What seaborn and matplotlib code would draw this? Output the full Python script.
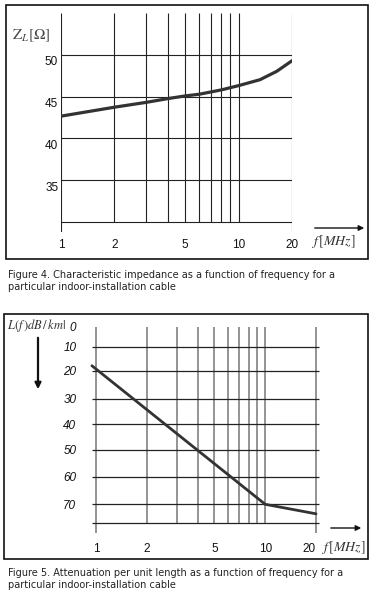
import numpy as np
import matplotlib
matplotlib.use("Agg")
import matplotlib.pyplot as plt
import matplotlib.patches as patches
import matplotlib.transforms as mtransforms
import seaborn as sns
import pandas as pd

# Figura 4: impedancia caracteristica
imp_freq = [1, 2, 3, 4, 5, 6, 8, 10, 13.2, 16.4, 20]
imp_z = [42.66, 43.73, 44.3, 44.76, 45.08, 45.28, 45.8, 46.31, 47.02, 48.02, 49.29]
imp_grid_f = [1, 2, 3, 4, 5, 6, 7, 8, 9, 10, 20]
imp_xticks = [1, 2, 5, 10, 20]
imp_yticks = [35, 40, 45, 50]
imp_hlines = [30, 35, 40, 45, 50]

# Figura 5: atenuacion por unidad de longitud
att_freq = [0.943, 10, 20]
att_db = [17.8, 70, 73.1]
att_grid_f = [1, 2, 3, 4, 5, 6, 7, 8, 9, 10, 20]
att_xticks = [1, 2, 5, 10, 20]
att_yticks = [0, 10, 20, 30, 40, 50, 60, 70]
att_hlines = [10, 20, 30, 40, 50, 60, 70, 76]
# la escala dB del original no es uniforme (separacion medida de la rejilla)
att_scale_vals = [0, 10, 20, 30, 40, 50, 60, 70, 76, 80]
att_scale_pos = [0, 20.3, 44.3, 72, 97.6, 123.3, 150, 177.6, 196, 206.3]

caption4 = ["Figure 4. Characteristic impedance as a function of frequency for a",
            "particular indoor-installation cable"]
caption5 = ["Figure 5. Attenuation per unit length as a function of frequency for a",
            "particular indoor-installation cable"]

sns.set_theme(style="white")
plt.rcParams['font.family'] = ['Liberation Sans', 'DejaVu Sans']
plt.rcParams['mathtext.fontset'] = 'stix'

W, H = 380, 593
fig = plt.figure(figsize=(W / 100, H / 100), dpi=100)
fig.patch.set_facecolor('white')


def fx(px):
    return px / W


def fy(py):
    return 1 - py / H


def frame(x0, y0, x1, y1):
    fig.patches.append(patches.Rectangle((fx(x0), fy(y1)), fx(x1) - fx(x0), fy(y0) - fy(y1),
                                         transform=fig.transFigure, fill=False,
                                         edgecolor='#111111', linewidth=1.2))


# ---------------- Figura 4 ----------------
ax1 = fig.add_axes([fx(61), fy(232), fx(292) - fx(61), fy(13) - fy(232)])
df1 = pd.DataFrame({'f': imp_freq, 'z': imp_z})
ax1.set_xscale('log')
ax1.set_xlim(1, 20)
ax1.set_ylim(28.8, 55)
for f in imp_grid_f:
    y_end = 28.8 if f in (1, 20) else 30
    ax1.vlines(f, y_end, 55, color='#222222', linewidth=0.8)
ax1.hlines(imp_hlines, 1, 20, color='#222222', linewidth=0.8)
sns.lineplot(data=df1, x='f', y='z', ax=ax1, color='#333333', linewidth=2.3)
ax1.set_xticks(imp_xticks)
ax1.set_xticklabels([str(t) for t in imp_xticks])
ax1.xaxis.set_minor_locator(matplotlib.ticker.NullLocator())
ax1.set_yticks(imp_yticks)
ax1.set_yticklabels([str(t) for t in imp_yticks])
ax1.tick_params(axis='both', length=0, labelsize=8.5, colors='#111111')
ax1.tick_params(axis='x', pad=5)
ax1.tick_params(axis='y', pad=2)
off = mtransforms.ScaledTranslation(0, -6 / 100, fig.dpi_scale_trans)
for lab in ax1.get_yticklabels():
    lab.set_transform(lab.get_transform() + off)
ax1.set_xlabel('')
ax1.set_ylabel('')
for s in ax1.spines.values():
    s.set_visible(False)
ax1.patch.set_alpha(0)

fig.text(fx(31), fy(36), r'$\mathrm{Z}_{L}[\Omega]$', fontsize=11, color='#444444',
         ha='center', va='center')
fig.text(fx(356), fy(241), r'$f\,[MHz]$', fontsize=10, color='#333333',
         ha='right', va='center')
fig.add_artist(patches.FancyArrowPatch((fx(312), fy(228)), (fx(367), fy(228)),
                                       transform=fig.transFigure, arrowstyle='-|>',
                                       mutation_scale=8, color='#111111', linewidth=1))
frame(6, 5, 368, 259)
for i, line in enumerate(caption4):
    fig.text(fx(8), fy(275 + 12 * i), line, fontsize=7, color='#222222',
             family=['DejaVu Sans'], ha='left', va='center')

# ---------------- Figura 5 ----------------
ax2 = fig.add_axes([fx(86), fy(533), fx(321) - fx(86), fy(326.7) - fy(533)])
df2 = pd.DataFrame({'f': att_freq, 'db': att_db})


def fwd(v):
    return np.interp(v, att_scale_vals, att_scale_pos)


def inv(p):
    return np.interp(p, att_scale_pos, att_scale_vals)


ax2.set_xscale('log')
ax2.set_yscale('function', functions=(fwd, inv))
ax2.set_xlim(0.87, 21.4)
ax2.set_ylim(80, 0)
for f in att_grid_f:
    y_end = 80 if f in (1, 20) else 76
    ax2.vlines(f, 0, y_end, color='#777777', linewidth=1.1)
ax2.hlines(att_hlines, 0.94, 20.7, color='#222222', linewidth=0.9)
sns.lineplot(data=df2, x='f', y='db', ax=ax2, color='#333333', linewidth=2.0)
ax2.set_xticks(att_xticks)
ax2.set_xticklabels([str(t) for t in att_xticks])
ax2.xaxis.set_minor_locator(matplotlib.ticker.NullLocator())
ax2.set_yticks(att_yticks)
ax2.set_yticklabels([str(t) for t in att_yticks], style='italic')
ax2.yaxis.set_minor_locator(matplotlib.ticker.NullLocator())
ax2.tick_params(axis='both', length=0, labelsize=8.5, colors='#111111')
ax2.tick_params(axis='x', pad=7)
ax2.tick_params(axis='y', pad=7)
# etiqueta "20" un poco a la izquierda, como en el original
ax2.get_xticklabels()[-1].set_horizontalalignment('right')
ax2.set_xlabel('')
ax2.set_ylabel('')
for s in ax2.spines.values():
    s.set_visible(False)
ax2.patch.set_alpha(0)

fig.text(fx(66), fy(325), r'$L(f\,)dB\,/\,km|$', fontsize=9, color='#333333',
         ha='right', va='center')
fig.add_artist(patches.FancyArrowPatch((fx(38), fy(335)), (fx(38), fy(392)),
                                       transform=fig.transFigure, arrowstyle='-|>',
                                       mutation_scale=9, color='#111111', linewidth=1.6))
fig.text(fx(366), fy(548), r'$f\,[MHz]$', fontsize=10, color='#333333',
         ha='right', va='center')
fig.add_artist(patches.FancyArrowPatch((fx(328), fy(528)), (fx(364), fy(528)),
                                       transform=fig.transFigure, arrowstyle='-|>',
                                       mutation_scale=8, color='#111111', linewidth=1))
frame(4, 314, 368, 559)
for i, line in enumerate(caption5):
    fig.text(fx(8), fy(573 + 12 * i), line, fontsize=7, color='#222222',
             family=['DejaVu Sans'], ha='left', va='center')

fig.savefig('out.png', dpi=100, facecolor='white')
